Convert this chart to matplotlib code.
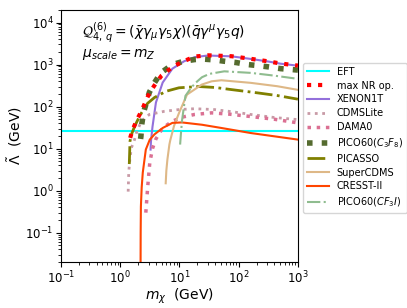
import matplotlib
matplotlib.use("Agg")
from matplotlib import pyplot as plt

# EFT validity scale (GeV)
eft_level = 27

# max over NR operators
m_max = [1.47, 1.6, 1.8, 2.0, 2.3, 2.6, 3.1, 4.0, 5.0, 7.6, 11, 18, 30, 75, 160, 305, 505, 1000]
L_max = [18, 27, 40, 55, 80, 120, 210, 360, 550, 870, 1150, 1550, 1660, 1580, 1370, 1200, 1060, 946]

m_xenon = [3.25, 3.3, 3.5, 4.0, 5.2, 7.6, 12, 18, 30, 75, 160, 305, 505, 1000]
L_xenon = [9.5, 15, 33, 125, 373, 800, 1200, 1500, 1640, 1570, 1360, 1190, 1050, 940]

m_cdmslite = [1.36, 1.39, 1.45, 1.54, 1.71, 1.87, 2.26, 3.1, 5.5, 9.8, 18, 39, 80, 160, 400, 1000]
L_cdmslite = [0.95, 2.7, 5.5, 10.5, 15, 23.6, 44.6, 65, 77, 85, 89, 85, 75, 65, 55, 49]

m_dama = [2.7, 2.8, 2.9, 3.15, 3.5, 4.0, 5.2, 7.6, 11, 18, 35, 70, 160, 400, 1000]
L_dama = [0.3, 0.6, 1.2, 4.6, 10, 17, 31, 45, 56, 65, 71, 66, 58, 50, 41]

m_pico_c3f8 = [2.2, 2.23, 2.3, 2.47, 3.1, 3.76, 4.85, 7.6, 11.8, 18, 25, 39, 57, 91, 142, 208, 318, 508, 790, 1000]
L_pico_c3f8 = [17, 19.4, 37, 72, 219, 366, 634, 1000, 1200, 1315, 1350, 1290, 1200, 1115, 1000, 946, 880, 800, 760, 740]

m_picasso = [1.42, 1.44, 1.46, 1.55, 1.75, 2.0, 2.3, 2.9, 3.8, 5.9, 9.8, 21, 40, 75, 208, 450, 1000]
L_picasso = [4.3, 8, 15, 22, 34, 50, 72, 120, 165, 231, 280, 300, 285, 254, 212, 183, 150]

m_supercdms = [5.85, 6.0, 6.25, 6.75, 7.0, 8.1, 9.8, 13.4, 23.8, 35, 51, 160, 450, 1000]
L_supercdms = [1.5, 3, 5.5, 12.5, 16, 35, 70, 193, 334, 400, 423, 367, 305, 250]

m_cresst = [2.2, 2.21, 2.23, 2.3, 2.4, 2.7, 3.15, 3.8, 5.2, 7.6, 11, 24, 51, 160, 1000]
L_cresst = [0.01, 0.1, 0.42, 1.2, 2.7, 9.5, 16.4, 22, 31, 41, 42, 37, 31, 23.5, 16.4]

m_pico_cf3i = [10.25, 10.5, 11, 12, 12.6, 16, 20, 24, 32, 57, 160, 390, 1000]
L_pico_cf3i = [12.5, 20, 45, 110, 180, 290, 400, 500, 600, 690, 634, 547, 457]

fig = plt.figure(figsize=(4.07, 3.08), dpi=100)
ax = fig.add_axes([0.150, 0.149, 0.582, 0.819])

ax.axhline(eft_level, color='cyan', lw=1.5, label='EFT')
ax.plot(m_max, L_max, ':', color='red', lw=3, label='max NR op.', zorder=5)
ax.plot(m_xenon, L_xenon, '-', color='mediumpurple', lw=1.5, label='XENON1T')
ax.plot(m_cdmslite, L_cdmslite, ':', color='#c89aa6', lw=2, label='CDMSLite')
ax.plot(m_dama, L_dama, ':', color='palevioletred', lw=2.5, label='DAMA0')
ax.plot(m_pico_c3f8, L_pico_c3f8, ':', color='darkolivegreen', lw=4, label=r'PICO60($C_3F_8$)', zorder=4)
ax.plot(m_picasso, L_picasso, '-.', color='olive', lw=2, label='PICASSO')
ax.plot(m_supercdms, L_supercdms, '-', color='burlywood', lw=1.5, label='SuperCDMS')
ax.plot(m_cresst, L_cresst, '-', color='orangered', lw=1.5, label='CRESST-II')
ax.plot(m_pico_cf3i, L_pico_cf3i, '-.', color='darkseagreen', lw=1.5, label=r'PICO60($CF_3I$)')

ax.set_xscale('log')
ax.set_yscale('log')
ax.set_xlim(0.1, 1000)
ax.set_ylim(0.02, 2e4)
ax.tick_params(labelsize=8.5, pad=2)
ax.set_xlabel(r'$m_\chi$  (GeV)', fontsize=10, labelpad=0)
ax.set_ylabel(r'$\tilde{\Lambda}$  (GeV)', fontsize=10, labelpad=1)

ax.text(0.09, 0.894, r'$\mathcal{Q}_{4,\,q}^{(6)} = (\bar{\chi}\gamma_\mu\gamma_5\chi)(\bar{q}\gamma^\mu\gamma_5 q)$',
        transform=ax.transAxes, fontsize=10, va='baseline')
ax.text(0.09, 0.815, r'$\mu_{scale} = m_Z$', transform=ax.transAxes, fontsize=10, va='baseline')

ax.legend(loc='upper left', bbox_to_anchor=(1.02, 0.79), borderaxespad=0,
          fontsize=7, handlelength=2.3, labelspacing=0.4)

fig.savefig('out.png', dpi=100)
